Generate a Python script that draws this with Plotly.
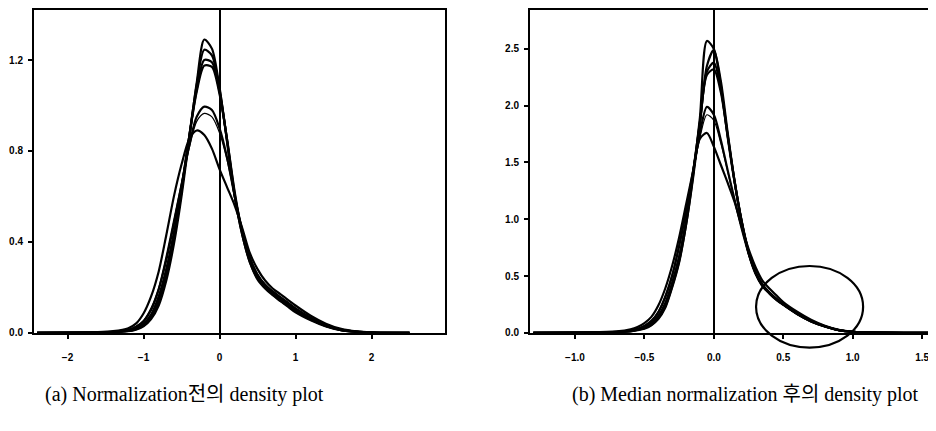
import plotly.graph_objects as go

# ---- data ----
# (a) before normalization
x_raw = [-2.4, -1.6, -1.4, -1.2, -1.1, -1.0, -0.9, -0.8, -0.7, -0.6, -0.5, -0.4, -0.3, -0.2, -0.1,
         0.0, 0.1, 0.2, 0.3, 0.4, 0.5, 0.6, 0.7, 0.8, 0.9, 1.0, 1.2, 1.4, 1.6, 1.8, 2.0, 2.5]
raw_1 = [0, 0.001, 0.002, 0.007, 0.014, 0.028, 0.06, 0.12, 0.23, 0.39, 0.60, 0.85, 1.10, 1.29, 1.25,
         1.08, 0.84, 0.60, 0.43, 0.31, 0.24, 0.20, 0.17, 0.14, 0.12, 0.095, 0.06, 0.03, 0.012, 0.004, 0.001, 0]
raw_2 = [0, 0.001, 0.002, 0.008, 0.016, 0.032, 0.068, 0.135, 0.25, 0.41, 0.62, 0.86, 1.09, 1.245, 1.22,
         1.07, 0.84, 0.60, 0.43, 0.31, 0.235, 0.195, 0.165, 0.14, 0.115, 0.09, 0.055, 0.028, 0.011, 0.004, 0.001, 0]
raw_3 = [0, 0.001, 0.003, 0.009, 0.018, 0.036, 0.075, 0.15, 0.27, 0.43, 0.63, 0.86, 1.07, 1.20, 1.19,
         1.06, 0.85, 0.61, 0.44, 0.32, 0.245, 0.20, 0.17, 0.145, 0.12, 0.095, 0.058, 0.03, 0.012, 0.004, 0.001, 0]
raw_4 = [0, 0.001, 0.003, 0.010, 0.020, 0.040, 0.08, 0.16, 0.28, 0.44, 0.64, 0.86, 1.06, 1.175, 1.17,
         1.05, 0.85, 0.62, 0.44, 0.32, 0.25, 0.205, 0.175, 0.15, 0.125, 0.10, 0.06, 0.031, 0.013, 0.005, 0.001, 0]
raw_5 = [0, 0.002, 0.004, 0.013, 0.026, 0.05, 0.10, 0.19, 0.32, 0.48, 0.65, 0.82, 0.95, 0.995, 0.98,
         0.90, 0.77, 0.60, 0.45, 0.33, 0.255, 0.21, 0.18, 0.155, 0.13, 0.105, 0.065, 0.033, 0.014, 0.005, 0.001, 0]
raw_6 = [0, 0.002, 0.005, 0.015, 0.029, 0.055, 0.11, 0.20, 0.34, 0.50, 0.66, 0.81, 0.93, 0.965, 0.95,
         0.88, 0.76, 0.60, 0.45, 0.335, 0.26, 0.215, 0.185, 0.16, 0.135, 0.11, 0.068, 0.035, 0.015, 0.005, 0.001, 0]
raw_7 = [0, 0.003, 0.007, 0.02, 0.04, 0.085, 0.16, 0.27, 0.43, 0.60, 0.74, 0.85, 0.89, 0.87, 0.81,
         0.72, 0.64, 0.56, 0.46, 0.35, 0.28, 0.23, 0.195, 0.17, 0.145, 0.12, 0.075, 0.04, 0.017, 0.006, 0.002, 0]

# (b) after median normalization
x_med = [-1.3, -0.9, -0.7, -0.6, -0.55, -0.5, -0.45, -0.4, -0.35, -0.3, -0.25, -0.2, -0.15, -0.1, -0.05,
         0.0, 0.05, 0.1, 0.15, 0.2, 0.25, 0.3, 0.35, 0.4, 0.45, 0.5, 0.6, 0.7, 0.8, 0.9, 1.0, 1.2, 1.6]
med_1 = [0, 0.001, 0.004, 0.012, 0.022, 0.035, 0.065, 0.12, 0.22, 0.40, 0.62, 0.95, 1.38, 1.90, 2.57,
         2.50, 2.18, 1.72, 1.32, 0.98, 0.70, 0.52, 0.41, 0.345, 0.29, 0.245, 0.165, 0.10, 0.055, 0.022, 0.008, 0.001, 0]
med_2 = [0, 0.001, 0.005, 0.013, 0.024, 0.04, 0.07, 0.13, 0.23, 0.41, 0.63, 0.95, 1.36, 1.84, 2.35,
         2.49, 2.22, 1.76, 1.33, 0.98, 0.71, 0.53, 0.415, 0.35, 0.295, 0.25, 0.165, 0.10, 0.055, 0.022, 0.008, 0.001, 0]
med_3 = [0, 0.001, 0.006, 0.015, 0.027, 0.045, 0.08, 0.14, 0.25, 0.43, 0.66, 0.98, 1.40, 1.85, 2.30,
         2.38, 2.15, 1.74, 1.33, 0.98, 0.71, 0.53, 0.42, 0.35, 0.295, 0.25, 0.168, 0.102, 0.056, 0.023, 0.008, 0.001, 0]
med_4 = [0, 0.001, 0.006, 0.016, 0.029, 0.05, 0.085, 0.15, 0.26, 0.44, 0.67, 0.99, 1.41, 1.86, 2.27,
         2.32, 2.12, 1.73, 1.33, 0.99, 0.72, 0.54, 0.425, 0.355, 0.30, 0.252, 0.17, 0.104, 0.057, 0.023, 0.008, 0.001, 0]
med_5 = [0, 0.002, 0.008, 0.02, 0.035, 0.06, 0.10, 0.18, 0.31, 0.50, 0.76, 1.07, 1.42, 1.76, 1.99,
         1.92, 1.70, 1.43, 1.17, 0.92, 0.70, 0.53, 0.42, 0.355, 0.30, 0.25, 0.17, 0.105, 0.058, 0.024, 0.008, 0.001, 0]
med_6 = [0, 0.002, 0.009, 0.022, 0.038, 0.065, 0.11, 0.19, 0.33, 0.52, 0.78, 1.08, 1.41, 1.72, 1.92,
         1.87, 1.67, 1.42, 1.16, 0.92, 0.70, 0.54, 0.43, 0.36, 0.305, 0.255, 0.173, 0.107, 0.059, 0.025, 0.008, 0.001, 0]
med_7 = [0, 0.003, 0.012, 0.03, 0.05, 0.085, 0.14, 0.24, 0.39, 0.59, 0.84, 1.13, 1.42, 1.71, 1.76,
         1.64, 1.48, 1.32, 1.15, 0.94, 0.74, 0.58, 0.46, 0.39, 0.33, 0.27, 0.185, 0.115, 0.062, 0.026, 0.009, 0.001, 0]

raw_curves = [raw_1, raw_2, raw_3, raw_4, raw_5, raw_6, raw_7]
med_curves = [med_1, med_2, med_3, med_4, med_5, med_6, med_7]
curve_widths = [2.2, 2.2, 2.2, 2.2, 2.2, 1.2, 2.2]

raw_xticks = [-2, -1, 0, 1, 2]
raw_yticks = [0.0, 0.4, 0.8, 1.2]
med_xticks = [-1.0, -0.5, 0.0, 0.5, 1.0, 1.5]
med_yticks = [0.0, 0.5, 1.0, 1.5, 2.0, 2.5]

caption_a = "(a) Normalization전의 density plot"
caption_b = "(b) Median normalization 후의 density plot"

# circled region in panel (b), data units
ring_x = [0.304, 1.075]
ring_y = [-0.13, 0.588]

# ---- layout geometry (page pixels; the page body has an 8px margin) ----
PAGE_W, PAGE_H, OFF = 936, 431, 8
W, H = PAGE_W - OFF, PAGE_H - OFF


def px(p):
    return (p - OFF) / W


def py(p):
    return (PAGE_H - p) / H


dom_y = [py(337), py(8)]
dom_x1 = [px(34), px(445)]
dom_x2 = [px(530), 1.0]
rng_x1 = [-2.441, 2.967]
rng_y1 = [0, 1.42]
rng_x2 = [-1.324, 1.6]
rng_y2 = [0, 2.843]

fig = go.Figure()
for ys, lw in zip(raw_curves, curve_widths):
    fig.add_trace(go.Scatter(x=x_raw, y=ys, mode="lines", xaxis="x", yaxis="y",
                             line=dict(color="black", width=lw, shape="spline", smoothing=0.8),
                             showlegend=False, hoverinfo="skip"))
for ys, lw in zip(med_curves, curve_widths):
    fig.add_trace(go.Scatter(x=x_med, y=ys, mode="lines", xaxis="x2", yaxis="y2",
                             line=dict(color="black", width=lw, shape="spline", smoothing=0.8),
                             showlegend=False, hoverinfo="skip"))

tickfont = dict(family="Liberation Sans, Arial", size=10, color="black", weight="bold")
common = dict(showgrid=False, ticks="outside", ticklen=4, tickwidth=1.5, tickcolor="black",
              showline=True, linecolor="black", linewidth=2, tickfont=tickfont, fixedrange=True)

fig.update_layout(
    width=W, height=H,
    margin=dict(l=0, r=0, t=0, b=0),
    paper_bgcolor="white", plot_bgcolor="white",
    xaxis=dict(domain=dom_x1, range=rng_x1, anchor="y", tickvals=raw_xticks,
               zeroline=True, zerolinecolor="black", zerolinewidth=2, mirror=True,
               ticklabelstandoff=10, **common),
    yaxis=dict(domain=dom_y, range=rng_y1, anchor="x", tickvals=raw_yticks, tickformat=".1f",
               zeroline=False, mirror=True, ticklabelstandoff=3, **common),
    xaxis2=dict(domain=dom_x2, range=rng_x2, anchor="y2", tickvals=med_xticks, tickformat=".1f",
                zeroline=True, zerolinecolor="black", zerolinewidth=2, mirror=True,
                ticklabelstandoff=10, **common),
    yaxis2=dict(domain=dom_y, range=rng_y2, anchor="x2", tickvals=med_yticks, tickformat=".1f",
                zeroline=False, mirror=False, ticklabelstandoff=3, **common),
)


def to_paper(v, rng, dom):
    return dom[0] + (v - rng[0]) / (rng[1] - rng[0]) * (dom[1] - dom[0])


fig.add_shape(type="circle", xref="paper", yref="paper",
              x0=to_paper(ring_x[0], rng_x2, dom_x2), x1=to_paper(ring_x[1], rng_x2, dom_x2),
              y0=to_paper(ring_y[0], rng_y2, dom_y), y1=to_paper(ring_y[1], rng_y2, dom_y),
              line=dict(color="black", width=2.2))

capfont = dict(family="Liberation Serif, Noto Sans CJK KR", size=20, color="black")
fig.add_annotation(text=caption_a, xref="paper", yref="paper", x=px(184), y=py(400),
                   showarrow=False, font=capfont, xanchor="center", yanchor="middle")
fig.add_annotation(text=caption_b, xref="paper", yref="paper", x=px(745), y=py(400),
                   showarrow=False, font=capfont, xanchor="center", yanchor="middle")

fig.write_html("out.html")
